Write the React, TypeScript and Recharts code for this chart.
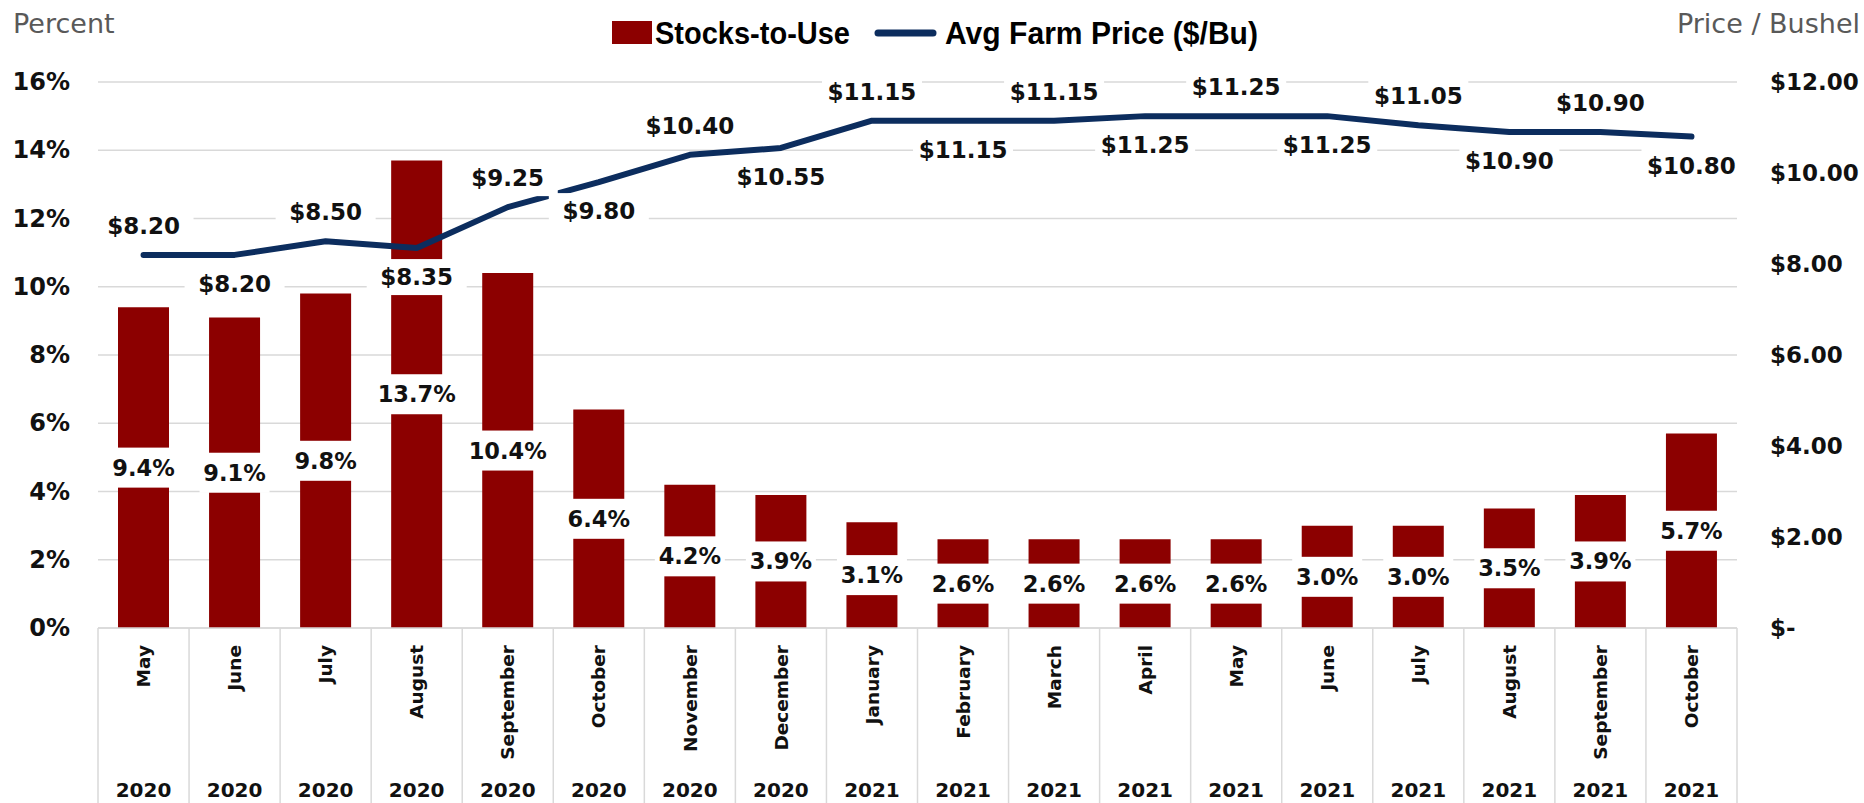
import React from 'react';
import { ComposedChart, Bar, Line, XAxis, YAxis, CartesianGrid, LabelList, Legend } from 'recharts';

const months = ['May', 'June', 'July', 'August', 'September', 'October', 'November', 'December', 'January', 'February', 'March', 'April', 'May', 'June', 'July', 'August', 'September', 'October'];
const years = ['2020', '2020', '2020', '2020', '2020', '2020', '2020', '2020', '2021', '2021', '2021', '2021', '2021', '2021', '2021', '2021', '2021', '2021'];
const stocksToUse = [9.4, 9.1, 9.8, 13.7, 10.4, 6.4, 4.2, 3.9, 3.1, 2.6, 2.6, 2.6, 2.6, 3.0, 3.0, 3.5, 3.9, 5.7];
const avgFarmPrice = [8.2, 8.2, 8.5, 8.35, 9.25, 9.8, 10.4, 10.55, 11.15, 11.15, 11.15, 11.25, 11.25, 11.25, 11.05, 10.9, 10.9, 10.8];
const percentTicks = [0, 2, 4, 6, 8, 10, 12, 14, 16];
const priceTicks = [0, 2, 4, 6, 8, 10, 12];

const data = months.map((m, i) => ({
  key: `${m} ${years[i]}`,
  stocks: stocksToUse[i],
  price: avgFarmPrice[i],
}));

const CHART_W = 1864;
const CHART_H = 803;
const LEFT_W = 98;
const RIGHT_W = 127;
const TOP = 82;
const XAXIS_H = 175;
const PLOT_W = CHART_W - LEFT_W - RIGHT_W;

const BAR_COLOR = '#8C0000';
const LINE_COLOR = '#0C2D5E';
const GRID = '#D9D9D9';
const FONT = "'DejaVu Sans', sans-serif";
const LEGEND_FONT = "'Liberation Sans', Arial, sans-serif";

const LeftTick = (props: any) => {
  const { y, payload } = props;
  return (
    <text x={LEFT_W - 28} y={y} textAnchor="end" dominantBaseline="central" fontFamily={FONT} fontWeight="bold" fontSize={24} fill="#111">
      {`${payload.value}%`}
    </text>
  );
};

const RightTick = (props: any) => {
  const { y, payload } = props;
  const v = payload.value;
  const txt = v === 0 ? '$-' : `$${Number(v).toFixed(2)}`;
  return (
    <text x={CHART_W - 94} y={y} textAnchor="start" dominantBaseline="central" fontFamily={FONT} fontWeight="bold" fontSize={23} fill="#111">
      {txt}
    </text>
  );
};

const XTick = (props: any) => {
  const { x, y, index } = props;
  const band = PLOT_W / months.length;
  const left = x - band / 2;
  const right = x + band / 2;
  const mY = y + 17;
  return (
    <g>
      <line x1={left} x2={left} y1={y} y2={y + XAXIS_H} stroke={GRID} strokeWidth={1.5} />
      {index === months.length - 1 && (
        <line x1={right} x2={right} y1={y} y2={y + XAXIS_H} stroke={GRID} strokeWidth={1.5} />
      )}
      <text
        x={x}
        y={mY}
        dy="0.36em"
        transform={`rotate(-90, ${x}, ${mY})`}
        textAnchor="end"
        fontFamily={FONT}
        fontWeight="bold"
        fontSize={18.5}
        fill="#111"
      >
        {months[index]}
      </text>
      <text x={x} y={y + 162} textAnchor="middle" dominantBaseline="central" fontFamily={FONT} fontWeight="bold" fontSize={20} fill="#111">
        {years[index]}
      </text>
    </g>
  );
};

const BarLabel = (props: any) => {
  const { x, y, width, height, value } = props;
  const cx = Number(x) + Number(width) / 2;
  const cy = Number(y) + Number(height) / 2;
  const txt = `${Number(value).toFixed(1)}%`;
  const w = txt.length * 14 + 14;
  const h = 40;
  return (
    <g>
      <rect x={cx - w / 2} y={cy - h / 2} width={w} height={h} fill="#fff" />
      <text x={cx} y={cy} textAnchor="middle" dominantBaseline="central" fontFamily={FONT} fontWeight="bold" fontSize={22.5} fill="#111">
        {txt}
      </text>
    </g>
  );
};

const PriceLabel = (props: any) => {
  const { x, y, value, index } = props;
  const above = index % 2 === 0;
  const cy = Number(y) + (above ? -29 : 29);
  const txt = `$${Number(value).toFixed(2)}`;
  const w = 100;
  const h = 36;
  return (
    <g>
      <rect x={Number(x) - w / 2} y={cy - h / 2} width={w} height={h} fill="#fff" />
      <text x={x} y={cy} textAnchor="middle" dominantBaseline="central" fontFamily={FONT} fontWeight="bold" fontSize={23} fill="#111">
        {txt}
      </text>
    </g>
  );
};

const LegendContent = () => (
  <svg width={CHART_W} height={60} style={{ display: 'block' }}>
    <text x={13} y={23} dominantBaseline="central" fontFamily={FONT} fontSize={27} fill="#595959">Percent</text>
    <text x={CHART_W - 4} y={23} textAnchor="end" dominantBaseline="central" fontFamily={FONT} fontSize={27} fill="#595959">Price / Bushel</text>
    <rect x={612} y={21} width={40} height={23} fill={BAR_COLOR} />
    <text x={655} y={33} dominantBaseline="central" fontFamily={LEGEND_FONT} fontWeight="bold" fontSize={31} fill="#000" textLength={195} lengthAdjust="spacingAndGlyphs">
      Stocks-to-Use
    </text>
    <line x1={878} x2={933} y1={33} y2={33} stroke={LINE_COLOR} strokeWidth={7} strokeLinecap="round" />
    <text x={945} y={33} dominantBaseline="central" fontFamily={LEGEND_FONT} fontWeight="bold" fontSize={31} fill="#000" textLength={313} lengthAdjust="spacingAndGlyphs">
      Avg Farm Price ($/Bu)
    </text>
  </svg>
);

export default function App() {
  return (
    <div style={{ position: 'absolute', left: 0, top: 0, width: CHART_W, height: CHART_H, background: '#fff' }}>
      <ComposedChart width={CHART_W} height={CHART_H} data={data} margin={{ top: TOP, right: 0, bottom: 0, left: 0 }} barCategoryGap="44%">
        <CartesianGrid vertical={false} stroke={GRID} strokeWidth={1.5} yAxisId="left" />
        <XAxis
          dataKey="key"
          height={XAXIS_H}
          interval={0}
          tickLine={false}
          tickSize={0}
          tickMargin={0}
          axisLine={{ stroke: GRID, strokeWidth: 1.5 }}
          tick={<XTick />}
        />
        <YAxis
          yAxisId="left"
          orientation="left"
          width={LEFT_W}
          domain={[0, 16]}
          ticks={percentTicks}
          axisLine={false}
          tickLine={false}
          tick={<LeftTick />}
        />
        <YAxis
          yAxisId="right"
          orientation="right"
          width={RIGHT_W}
          domain={[0, 12]}
          ticks={priceTicks}
          axisLine={false}
          tickLine={false}
          tick={<RightTick />}
        />
        <Legend
          layout="horizontal"
          verticalAlign="middle"
          align="center"
          wrapperStyle={{ position: 'absolute', top: 0, left: 0, width: CHART_W, height: 60 }}
          content={() => <LegendContent />}
        />
        <Bar yAxisId="left" dataKey="stocks" name="Stocks-to-Use" fill={BAR_COLOR} barSize={51} isAnimationActive={false}>
          <LabelList dataKey="stocks" content={<BarLabel />} />
        </Bar>
        <Line
          yAxisId="right"
          type="linear"
          dataKey="price"
          name="Avg Farm Price ($/Bu)"
          stroke={LINE_COLOR}
          strokeWidth={6}
          strokeLinecap="round"
          strokeLinejoin="round"
          dot={false}
          activeDot={false}
          isAnimationActive={false}
        >
          <LabelList dataKey="price" content={<PriceLabel />} />
        </Line>
      </ComposedChart>
    </div>
  );
}
